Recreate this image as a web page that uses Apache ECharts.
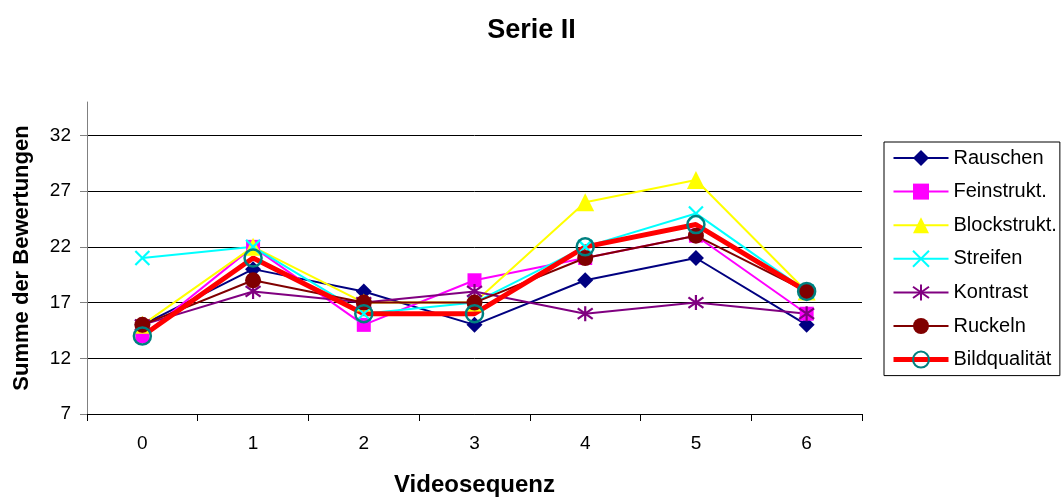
<!DOCTYPE html>
<html>
<head>
<meta charset="utf-8">
<script src="https://cdn.jsdelivr.net/npm/echarts@6/dist/echarts.min.js"></script>
<style>
  html, body { margin: 0; padding: 0; background: #fff; }
  #chart { width: 1063px; height: 502px; }
</style>
</head>
<body>
<div id="chart"></div>
<script>
// Videosequenz 0..6
var categories = ["0", "1", "2", "3", "4", "5", "6"];
var yTicks = [7, 12, 17, 22, 27, 32];

var rauschen = [15, 20, 18, 15, 19, 21, 15];
var feinstrukt = [14, 22, 15, 19, 21, 23, 16];
var blockstrukt = [15, 22, 17, 17, 26, 28, 18];
var streifen = [21, 22, 16, 17, 22, 25, 18];
var kontrast = [15, 18, 17, 18, 16, 17, 16];
var ruckeln = [15, 19, 17, 17, 21, 23, 18];
var bildqualitaet = [14, 21, 16, 16, 22, 24, 18];

var fontFamily = "'Liberation Sans', Arial, sans-serif";
// line-only symbols, drawn with the border stroke
var crossPath = "path://M0,0 L10,10 M10,0 L0,10";
var starPath = "path://M5,0 L5,10 M0.7,1.5 L9.3,8.5 M9.3,1.5 L0.7,8.5";

function lineSeries(name, data, color, symbol, size, stroked) {
  return {
    name: name,
    type: "line",
    data: data,
    symbol: symbol,
    symbolSize: size,
    showAllSymbol: true,
    lineStyle: { color: color, width: 2 },
    itemStyle: stroked
      ? { color: color, borderColor: color, borderWidth: 2.2 }
      : { color: color, borderWidth: 0 },
    emphasis: { disabled: true }
  };
}

var series = [
  lineSeries("Rauschen", rauschen, "#000080", "diamond", 16, false),
  lineSeries("Feinstrukt.", feinstrukt, "#FF00FF", "rect", 14, false),
  lineSeries("Blockstrukt.", blockstrukt, "#FFFF00", "triangle", 18, false),
  lineSeries("Streifen", streifen, "#00FFFF", crossPath, 14, true),
  lineSeries("Kontrast", kontrast, "#800080", starPath, 15, true),
  lineSeries("Ruckeln", ruckeln, "#800000", "circle", 16, false),
  {
    name: "Bildqualität",
    type: "line",
    data: bildqualitaet,
    symbol: "circle",
    symbolSize: 17,
    lineStyle: { color: "#FF0000", width: 5 },
    itemStyle: { color: "rgba(0,0,0,0)", borderColor: "#008080", borderWidth: 2.5 },
    emphasis: { disabled: true }
  }
];

var myChart = echarts.init(document.getElementById("chart"));
myChart.setOption({
  animation: false,
  backgroundColor: "#fff",
  textStyle: { fontFamily: fontFamily },
  title: {
    text: "Serie II",
    left: "center",
    top: 12,
    textStyle: { fontFamily: fontFamily, fontSize: 27, fontWeight: "bold", color: "#000" }
  },
  legend: {
    orient: "vertical",
    left: 884,
    top: 142,
    padding: [5, 3, 5, 7],
    borderColor: "#000",
    borderWidth: 1,
    itemWidth: 55,
    itemHeight: 20,
    itemGap: 11.6,
    selectedMode: false,
    lineStyle: { width: "inherit" },
    textStyle: { fontFamily: fontFamily, fontSize: 20, lineHeight: 22, color: "#000" },
    data: series.map(function (s) { return s.name; })
  },
  grid: {
    left: 87,
    right: 201,
    top: 102,
    bottom: 87
  },
  xAxis: {
    type: "category",
    data: categories,
    boundaryGap: true,
    name: "Videosequenz",
    nameLocation: "middle",
    nameGap: 59,
    nameTextStyle: { fontFamily: fontFamily, fontSize: 24, fontWeight: "bold", color: "#000" },
    axisLine: { lineStyle: { color: "#000", width: 1 } },
    axisTick: { show: true, length: 7, inside: false, lineStyle: { color: "#000" } },
    axisLabel: { margin: 20, fontSize: 19, color: "#000", fontFamily: fontFamily },
    splitLine: { show: false }
  },
  yAxis: {
    type: "value",
    min: 7,
    max: 35,
    interval: 5,
    name: "Summe der Bewertungen",
    nameLocation: "middle",
    nameRotate: 90,
    nameGap: 54,
    nameTextStyle: { fontFamily: fontFamily, fontSize: 22, fontWeight: "bold", color: "#000" },
    axisLine: { show: true, lineStyle: { color: "#808080", width: 1 } },
    axisTick: { show: true, length: 7, inside: false, customValues: yTicks, lineStyle: { color: "#808080" } },
    axisLabel: {
      margin: 16,
      fontSize: 19,
      color: "#000",
      fontFamily: fontFamily,
      customValues: yTicks
    },
    splitLine: { show: true, lineStyle: { color: "#000", width: 1 } }
  },
  series: series
});
</script>
</body>
</html>
